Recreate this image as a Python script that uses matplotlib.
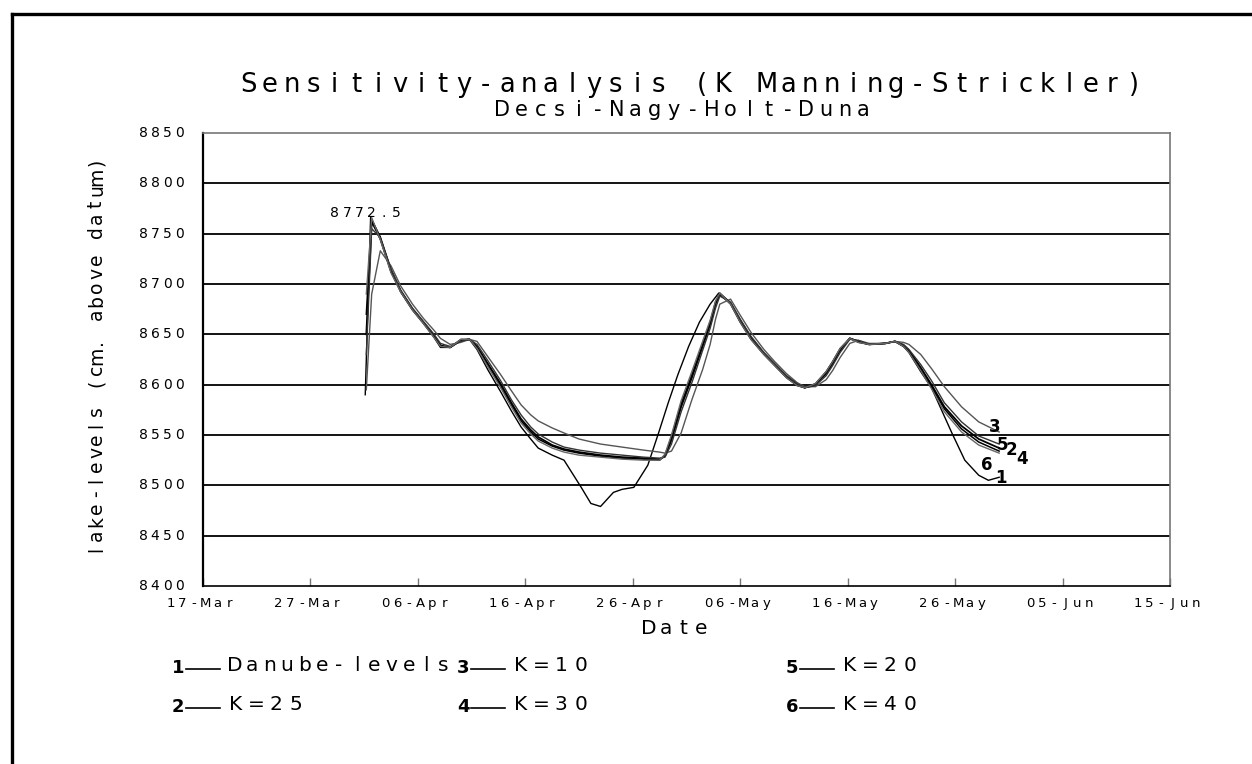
import matplotlib
matplotlib.use('Agg')
import matplotlib.pyplot as plt
from matplotlib.transforms import offset_copy, blended_transform_factory
from matplotlib.lines import Line2D

# ---------------- data ----------------
title = "Sensitivity-analysis (K Manning-Strickler)"
subtitle = "Decsi-Nagy-Holt-Duna"
ylabel = "lake-levels (cm. above datum)"
xlabel = "Date"

# x in days after 17-Mar
xtick_labels = ["17-Mar", "27-Mar", "06-Apr", "16-Apr", "26-Apr",
                "06-May", "16-May", "26-May", "05-Jun", "15-Jun"]
ytick_values = [8400, 8450, 8500, 8550, 8600, 8650, 8700, 8750, 8800, 8850]
grid_values = [8450, 8500, 8550, 8600, 8650, 8700, 8750, 8800]

days_k = [15.2, 15.7, 16.5, 17.5, 18.4, 19.5, 20.5, 21.5, 22.1, 23.0,
          24.0, 24.8, 25.5, 26.5, 27.7, 28.7, 29.6, 30.5, 31.2, 32.5,
          33.6, 35.0, 37.0, 39.0, 41.0, 42.5, 43.0, 43.6, 44.5, 45.5,
          46.5, 47.2, 47.7, 48.1, 49.1, 50.0, 51.0, 52.2, 53.2, 54.3,
          55.3, 56.0, 57.0, 58.0, 58.6, 59.3, 60.2, 61.0, 62.0, 63.5,
          64.4, 65.2, 65.7, 66.8, 67.8, 69.0, 70.6, 72.2, 74.1]

k25 = [8650, 8762, 8745, 8713, 8693, 8675, 8662, 8649, 8639, 8637,
       8644, 8645, 8638, 8621, 8601, 8582, 8566, 8555, 8548, 8540,
       8536, 8533, 8530, 8528, 8527, 8526, 8529, 8545, 8578, 8607,
       8638, 8660, 8680, 8690, 8681, 8664, 8647, 8631, 8620, 8608,
       8600, 8597, 8600, 8611, 8621, 8634, 8646, 8643, 8640, 8641,
       8643, 8639, 8634, 8617, 8600, 8578, 8559, 8546, 8537]
k40 = [8690, 8766, 8744, 8711, 8692, 8674, 8661, 8647, 8638, 8637,
       8645, 8645, 8636, 8618, 8597, 8578, 8562, 8551, 8544, 8537,
       8533, 8530, 8528, 8526, 8525, 8525, 8531, 8550, 8584, 8613,
       8643, 8664, 8683, 8691, 8680, 8662, 8645, 8630, 8619, 8607,
       8599, 8597, 8601, 8613, 8623, 8636, 8646, 8642, 8640, 8641,
       8643, 8638, 8632, 8614, 8596, 8573, 8553, 8540, 8532]
k30 = [8670, 8764, 8745, 8712, 8693, 8675, 8662, 8648, 8638, 8637,
       8644, 8645, 8637, 8620, 8599, 8580, 8564, 8553, 8546, 8539,
       8535, 8532, 8529, 8527, 8526, 8525, 8530, 8548, 8581, 8610,
       8640, 8662, 8682, 8691, 8681, 8663, 8646, 8631, 8620, 8608,
       8600, 8597, 8600, 8612, 8622, 8635, 8646, 8643, 8640, 8641,
       8643, 8638, 8633, 8615, 8598, 8576, 8556, 8543, 8534]
k20 = [8630, 8755, 8746, 8715, 8694, 8676, 8663, 8650, 8641, 8638,
       8643, 8645, 8640, 8624, 8604, 8585, 8570, 8558, 8551, 8543,
       8538, 8535, 8532, 8530, 8528, 8527, 8528, 8541, 8573, 8602,
       8634, 8656, 8676, 8688, 8682, 8665, 8648, 8632, 8621, 8609,
       8601, 8597, 8599, 8609, 8619, 8632, 8645, 8644, 8640, 8641,
       8643, 8640, 8635, 8620, 8604, 8582, 8563, 8549, 8541]
k10 = [8595, 8690, 8733, 8718, 8698, 8680, 8666, 8654, 8646, 8640,
       8642, 8645, 8643, 8628, 8610, 8594, 8580, 8570, 8564, 8557,
       8552, 8546, 8541, 8538, 8535, 8533, 8532, 8534, 8552, 8585,
       8615, 8640, 8665, 8680, 8685, 8669, 8652, 8635, 8623, 8611,
       8602, 8598, 8598, 8605, 8614, 8627, 8641, 8644, 8641, 8641,
       8643, 8642, 8640, 8630, 8616, 8598, 8578, 8563, 8553]

days_danube = [15.1, 15.6, 16.5, 17.5, 18.4, 19.5, 20.5, 21.5, 22.1, 23.0,
               24.0, 24.8, 25.5, 26.5, 27.7, 28.7, 29.6, 30.5, 31.2, 32.5,
               33.6, 35.2, 36.1, 37.0, 38.2, 39.0, 40.1, 41.4, 42.4, 43.3,
               44.2, 45.2, 46.2, 47.2, 48.0, 49.1, 50.0, 51.0, 52.2, 53.2,
               54.3, 55.3, 56.0, 57.0, 58.0, 58.6, 59.3, 60.2, 61.0, 62.0,
               63.5, 64.4, 65.2, 65.7, 66.8, 67.8, 69.7, 70.9, 72.2, 73.1,
               74.1]
danube = [8590, 8766, 8747, 8714, 8692, 8674, 8661, 8647, 8637, 8637,
          8645, 8645, 8635, 8615, 8593, 8574, 8558, 8546, 8537, 8530,
          8525, 8498, 8482, 8479, 8493, 8496, 8498, 8520, 8552, 8582,
          8610, 8638, 8662, 8680, 8691, 8680, 8662, 8645, 8630, 8619,
          8607, 8599, 8597, 8601, 8613, 8623, 8636, 8646, 8642, 8640,
          8641, 8643, 8638, 8632, 8613, 8597, 8552, 8525, 8510, 8505,
          8508]

peak_label = "8772.5"

series_numbers = ["1", "2", "3", "4", "5", "6"]
series_names = ["Danube-levels", "K=25", "K=10", "K=30", "K=20", "K=40"]

# ---------------- figure ----------------
W, H, DPI = 1252, 764, 100
fig = plt.figure(figsize=(W / DPI, H / DPI), dpi=DPI, facecolor='white')
FONT = ['DejaVu Sans']
NUMFONT = ['Liberation Sans Narrow', 'DejaVu Sans']


def px(x, y):
    return x / W, 1 - y / H


def spaced(x, y, s, transform, pitch, size, ha='center', rotation=0,
           dx=0, dy=0, weight='normal', color='black', family=None):
    n = len(s)
    if ha == 'center':
        start = -(n - 1) / 2 * pitch
    elif ha == 'left':
        start = pitch / 2
    else:
        start = -(n - 0.5) * pitch
    for i, ch in enumerate(s):
        if ch == ' ':
            continue
        off = start + i * pitch
        if rotation == 90:
            ox, oy = dx, dy + off
        else:
            ox, oy = dx + off, dy
        tr = offset_copy(transform, fig=fig, x=ox, y=oy, units='dots')
        fig.text(x, y, ch, transform=tr, ha='center', va='baseline',
                 rotation=rotation, rotation_mode='anchor', fontsize=size,
                 fontweight=weight, color=color, family=family or FONT)


# outer frame
fig.add_artist(Line2D([11.5 / W, 11.5 / W], [1 - 14 / H, 0], transform=fig.transFigure,
                      color='black', lw=2.4, solid_capstyle='projecting'))
fig.add_artist(Line2D([11.5 / W, 1], [1 - 14 / H, 1 - 14 / H], transform=fig.transFigure,
                      color='black', lw=2.4, solid_capstyle='projecting'))

ax_l, ax_r, ax_t, ax_b = 203, 1170, 133, 586
ax = fig.add_axes([ax_l / W, 1 - ax_b / H, (ax_r - ax_l) / W, (ax_b - ax_t) / H])
ax.set_xlim(0, 90)
ax.set_ylim(ytick_values[0], ytick_values[-1])

for g in grid_values:
    ax.axhline(g, color='black', lw=1.3, zorder=1)

styles = [
    (days_danube, danube, 'black', 1.0),
    (days_k, k25, 'black', 1.3),
    (days_k, k10, '#555555', 1.0),
    (days_k, k30, 'black', 1.1),
    (days_k, k20, '#333333', 1.0),
    (days_k, k40, '#666666', 1.0),
]
for xs, ys, c, lw in styles:
    ax.plot(xs, ys, color=c, lw=lw, zorder=3)

for side in ['top', 'right']:
    ax.spines[side].set_color('#777777')
    ax.spines[side].set_linewidth(1.2)
ax.spines['left'].set_color('black')
ax.spines['left'].set_linewidth(1.6)
ax.spines['bottom'].set_color('black')
ax.spines['bottom'].set_linewidth(1.2)

xtick_pos = [10 * i for i in range(len(xtick_labels))]
ax.set_xticks(xtick_pos)
ax.set_xticklabels([])
ax.tick_params(axis='x', direction='in', length=6, width=1, color='#777777')
ax.set_yticks(ytick_values)
ax.set_yticklabels([])
ax.tick_params(axis='y', length=0)

# tick labels
tr_y = blended_transform_factory(ax.transAxes, ax.transData)
for v in ytick_values:
    spaced(0, v, str(v), tr_y, 12, 10, ha='right', dx=-18, dy=-4)
tr_x = blended_transform_factory(ax.transData, ax.transAxes)
for p, lab in zip(xtick_pos, xtick_labels):
    spaced(p, 0, lab, tr_x, 11.7, 9.5, dx=-3, dy=-21)

# titles
spaced(*px(691, 92), title, fig.transFigure, 21.6, 18.5)
spaced(*px(683, 116), subtitle, fig.transFigure, 19, 15)
spaced(*px(102, 356), ylabel, fig.transFigure, 13.8, 13.5, rotation=90)
spaced(*px(675, 634), xlabel, fig.transFigure, 17.5, 14.5)

# peak label
ipk = danube.index(max(danube))
spaced(days_danube[ipk], danube[ipk], peak_label, ax.transData, 12.3, 10, dx=-5, dy=1)

# end-of-line number labels (offsets in pixels)
ends = [
    (days_danube[-1], danube[-1], 2, -6),     # 1
    (days_k[-1], k25[-1], 12, -7),            # 2
    (days_k[-1], k10[-1], -4, 0),             # 3
    (days_k[-1], k30[-1], 23, -13),           # 4
    (days_k[-1], k20[-1], 3, -6),             # 5
    (days_k[-1], k40[-1], -12, -17),          # 6
]
for num, (ex, ey, ox, oy) in zip(series_numbers, ends):
    spaced(ex, ey, num, ax.transData, 10, 12, dx=ox, dy=oy,
           weight='bold', family=NUMFONT)

# legend
leg_pos = {
    "1": (178, 671), "3": (463, 671), "5": (792, 671),
    "2": (178, 710), "4": (463, 710), "6": (792, 710),
}
leg_pitch = {"1": 17.4}
for num, name in zip(series_numbers, series_names):
    lx, ly = leg_pos[num]
    spaced(*px(lx, ly + 2), num, fig.transFigure, 10, 13, weight='bold', family=NUMFONT)
    fig.add_artist(Line2D([(lx + 8) / W, (lx + 42) / W], [1 - (ly - 2) / H] * 2,
                          transform=fig.transFigure, color='black', lw=1.2))
    spaced(*px(lx + 48, ly), name, fig.transFigure, leg_pitch.get(num, 20), 14.5, ha='left')

fig.savefig('out.png', dpi=DPI, facecolor='white')
